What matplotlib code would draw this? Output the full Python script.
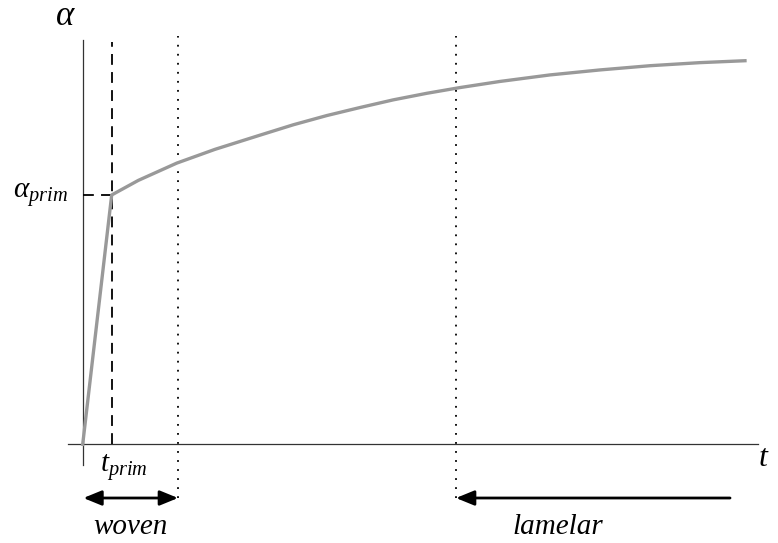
import matplotlib.pyplot as plt
import numpy as np

plt.rcParams['mathtext.fontset'] = 'custom'
plt.rcParams['mathtext.rm'] = 'Liberation Serif'
plt.rcParams['mathtext.it'] = 'Liberation Serif:italic'
plt.rcParams['font.family'] = ['Liberation Serif', 'DejaVu Serif']

# degree of cure vs time: fast linear rise up to t_prim, then slow saturation
t = [0.0, 4.37, 8.38, 14.17, 19.95, 26.74, 31.75, 36.79, 41.81, 46.83,
     51.86, 56.88, 62.92, 70.46, 78.0, 85.53, 93.07, 99.85]
alpha = [0.0, 0.650, 0.688, 0.733, 0.769, 0.806, 0.833, 0.857, 0.878, 0.898,
         0.915, 0.930, 0.946, 0.963, 0.976, 0.987, 0.995, 1.0]

t_prim = 4.37
alpha_prim = 0.650
t_woven = 14.37      # end of the woven range
t_lamelar = 56.28    # start of the lamelar range
t_lamelar_end = 97.6

fig = plt.figure(figsize=(7.78, 5.43), dpi=100)
ax = fig.add_axes([0, 0, 1, 1])
ax.set_xlim(-12.47, 104.83)
ax.set_ylim(-0.2573, 1.1583)
ax.axis('off')

# axes drawn by hand
ax.plot([-2.2, 101.8], [0, 0], color='#333333', lw=0.9)
ax.plot([0, 0], [-0.054, 1.054], color='#333333', lw=0.9)

# curve
ax.plot(t, alpha, color='#999999', lw=2.4, solid_joinstyle='round', zorder=3)

# t_prim / alpha_prim markers
ax.plot([t_prim, t_prim], [0, 1.049], color='black', lw=1.3, ls=(0, (6, 4)))
ax.plot([0, t_prim], [alpha_prim, alpha_prim], color='black', lw=1.3, ls=(0, (6, 4)))

# range boundaries
for x in [t_woven, t_lamelar]:
    ax.plot([x, x], [-0.140, 1.065], color='black', lw=1.3, ls=(0, (1, 4)))

arrow_y = -0.140
ax.annotate('', xy=(t_woven, arrow_y), xytext=(0.1, arrow_y),
            arrowprops=dict(arrowstyle='<|-|>,head_length=1.1,head_width=0.45',
                            color='black', lw=2, shrinkA=0, shrinkB=0))
ax.annotate('', xy=(t_lamelar, arrow_y), xytext=(t_lamelar_end, arrow_y),
            arrowprops=dict(arrowstyle='-|>,head_length=1.1,head_width=0.45',
                            color='black', lw=2, shrinkA=0, shrinkB=0))

ax.text((0 + t_woven) / 2, -0.215, 'woven', fontsize=21, style='italic',
        ha='center', va='center')
ax.text(71.7, -0.215, 'lamelar', fontsize=21,
        style='italic', ha='center', va='center')

# axis labels
ax.text(-2.6, 1.115, r'$\alpha$', fontsize=25, ha='center', va='center')
ax.text(102.7, 0.0, r'$t$', fontsize=23, ha='center', va='top')
ax.text(-2.3, alpha_prim, r'$\alpha_{prim}$', fontsize=21, ha='right', va='center')
ax.text(t_prim + 1.9, -0.02, r'$t_{prim}$', fontsize=21, ha='center', va='top')

fig.savefig('out.png', dpi=100)
